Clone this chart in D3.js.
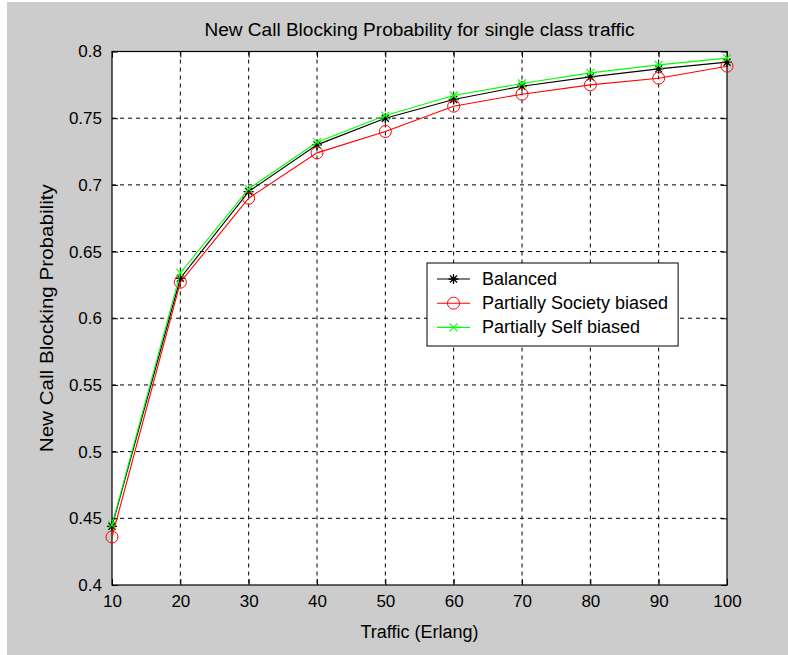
<!DOCTYPE html>
<html>
<head>
<meta charset="utf-8">
<script src="https://cdn.jsdelivr.net/npm/d3@7"></script>
<style>
  html, body { margin: 0; padding: 0; background: #fff; }
  svg { display: block; }
</style>
</head>
<body>
<script>
const overallWidth = 788
const overallHeight = 655
const margin = { left: 112, top: 51.5, right: 61, bottom: 70 }
const width = overallWidth - margin.left - margin.right
const height = overallHeight - margin.top - margin.bottom

const traffic = [10, 20, 30, 40, 50, 60, 70, 80, 90, 100]
const balanced = [0.444, 0.630, 0.695, 0.730, 0.750, 0.764, 0.774, 0.781, 0.787, 0.792]
const societyBiased = [0.436, 0.627, 0.690, 0.724, 0.740, 0.759, 0.768, 0.775, 0.780, 0.789]
const selfBiased = [0.445, 0.634, 0.697, 0.732, 0.752, 0.767, 0.776, 0.784, 0.790, 0.795]
const xTicks = [10, 20, 30, 40, 50, 60, 70, 80, 90, 100]
const yTicks = [0.4, 0.45, 0.5, 0.55, 0.6, 0.65, 0.7, 0.75, 0.8]

const seriesNames = ['Balanced', 'Partially Society biased', 'Partially Self biased']
const seriesValues = [balanced, societyBiased, selfBiased]
const colors = ['#000000', '#ff0000', '#00ff00']
const markers = ['star', 'circle', 'x']

const font = '"Liberation Sans", Arial, sans-serif'

const svg = d3.select('body').append('svg')
  .attr('width', overallWidth)
  .attr('height', overallHeight)
  .style('font-family', font)

// figure background
svg.append('rect')
  .attr('x', 7).attr('y', 2)
  .attr('width', overallWidth - 7).attr('height', overallHeight - 2)
  .attr('fill', '#cccccc')

const g = svg.append('g').attr('transform', `translate(${margin.left},${margin.top})`)

const x = d3.scaleLinear().domain([10, 100]).range([0, width])
const y = d3.scaleLinear().domain([0.4, 0.8]).range([height, 0])

g.append('rect').attr('width', width).attr('height', height).attr('fill', '#fff')

// grid
g.append('g').selectAll('line')
  .data(xTicks.slice(1, -1)).enter().append('line')
  .attr('x1', d => x(d)).attr('x2', d => x(d))
  .attr('y1', 0).attr('y2', height)
  .attr('stroke', '#000').attr('stroke-dasharray', '4,4')
g.append('g').selectAll('line')
  .data(yTicks.slice(1, -1)).enter().append('line')
  .attr('x1', 0).attr('x2', width)
  .attr('y1', d => y(d)).attr('y2', d => y(d))
  .attr('stroke', '#000').attr('stroke-dasharray', '4,4')

// axes with inward ticks
const styleAxis = sel => {
  sel.select('.domain').remove()
  sel.selectAll('.tick line').attr('stroke', '#000')
  sel.selectAll('.tick text').attr('fill', '#000').style('font-family', font).style('font-size', '17px')
}
g.append('g').attr('transform', `translate(0,${height})`)
  .call(d3.axisBottom(x).tickValues(xTicks).tickSize(-6).tickPadding(10).tickFormat(d3.format('d')))
  .call(styleAxis)
g.append('g')
  .call(d3.axisTop(x).tickValues(xTicks).tickSize(-6).tickFormat(''))
  .call(styleAxis)
g.append('g')
  .call(d3.axisLeft(y).tickValues(yTicks).tickSize(-6).tickPadding(10).tickFormat(d => String(+d.toFixed(2))))
  .call(styleAxis)
g.append('g').attr('transform', `translate(${width},0)`)
  .call(d3.axisRight(y).tickValues(yTicks).tickSize(-6).tickFormat(''))
  .call(styleAxis)

g.append('rect').attr('width', width).attr('height', height)
  .attr('fill', 'none').attr('stroke', '#000').attr('stroke-width', 1.2)

const drawMarker = (sel, type, color) => {
  if (type === 'circle') {
    sel.append('circle').attr('r', 6).attr('fill', 'none').attr('stroke', color)
  } else if (type === 'star') {
    sel.append('path').attr('d', 'M-5,0H5M0,-5V5M-3.5,-3.5L3.5,3.5M-3.5,3.5L3.5,-3.5')
      .attr('stroke', color).attr('stroke-width', 1.3)
  } else {
    sel.append('path').attr('d', 'M-4,-4L4,4M-4,4L4,-4')
      .attr('stroke', color).attr('stroke-width', 1.1)
  }
}

const line = d3.line().x(d => x(d[0])).y(d => y(d[1]))

seriesValues.forEach((vals, i) => {
  const pts = traffic.map((t, j) => [t, vals[j]])
  g.append('path').datum(pts)
    .attr('d', line).attr('fill', 'none')
    .attr('stroke', colors[i]).attr('stroke-width', 1.1)
  g.append('g').selectAll('g')
    .data(pts).enter().append('g')
    .attr('transform', d => `translate(${x(d[0])},${y(d[1])})`)
    .each(function () { drawMarker(d3.select(this), markers[i], colors[i]) })
})

// legend
const legend = svg.append('g').attr('transform', 'translate(427,263)')
const legendBox = legend.append('rect').attr('height', 83)
  .attr('fill', '#fff').attr('stroke', '#000')
let maxW = 0
seriesNames.forEach((name, i) => {
  const ly = 16 + i * 24.2
  legend.append('line').attr('x1', 10).attr('x2', 43).attr('y1', ly).attr('y2', ly)
    .attr('stroke', colors[i]).attr('stroke-width', 1.1)
  drawMarker(legend.append('g').attr('transform', `translate(26.5,${ly})`), markers[i], colors[i])
  const t = legend.append('text').attr('x', 55).attr('y', ly)
    .attr('dominant-baseline', 'central')
    .style('font-size', '18px')
    .text(name)
  maxW = Math.max(maxW, t.node().getComputedTextLength())
})
legendBox.attr('width', 55 + maxW + 10)

svg.append('text')
  .attr('x', margin.left + width / 2).attr('y', 30)
  .attr('text-anchor', 'middle').attr('dominant-baseline', 'central')
  .attr('textLength', 430).attr('lengthAdjust', 'spacingAndGlyphs')
  .style('font-size', '18px')
  .text('New Call Blocking Probability for single class traffic')

svg.append('text')
  .attr('x', margin.left + width / 2).attr('y', 632)
  .attr('text-anchor', 'middle').attr('dominant-baseline', 'central')
  .style('font-size', '18px')
  .text('Traffic (Erlang)')

svg.append('text')
  .attr('transform', `translate(47,${margin.top + height / 2}) rotate(-90)`)
  .attr('text-anchor', 'middle').attr('dominant-baseline', 'central')
  .attr('textLength', 268).attr('lengthAdjust', 'spacingAndGlyphs')
  .style('font-size', '18px')
  .text('New Call Blocking Probability')
</script>
</body>
</html>
